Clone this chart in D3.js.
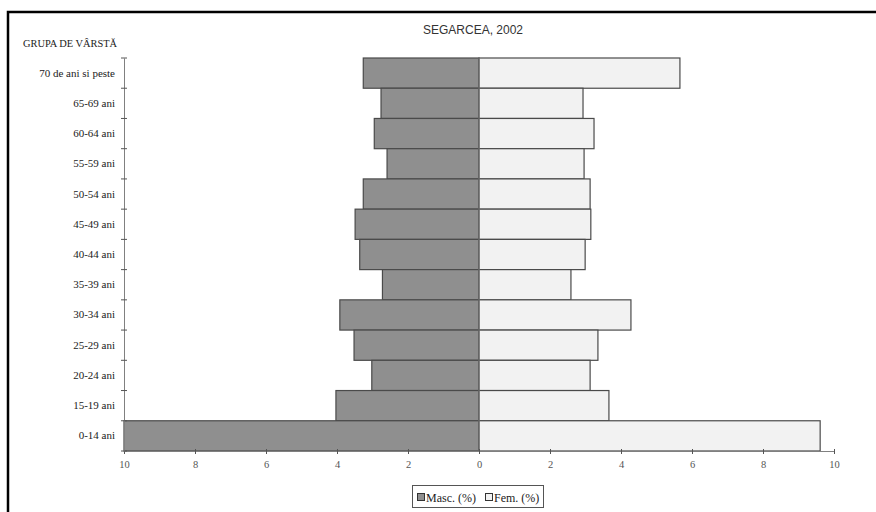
<!DOCTYPE html>
<html><head><meta charset="utf-8">
<script src="https://cdn.jsdelivr.net/npm/d3@7"></script>
<style>body{margin:0;background:#fff}svg{display:block}</style>
</head><body>
<script>
const categories = ["70 de ani si peste","65-69 ani","60-64 ani","55-59 ani","50-54 ani","45-49 ani","40-44 ani","35-39 ani","30-34 ani","25-29 ani","20-24 ani","15-19 ani","0-14 ani"];
const masc = [3.26,2.76,2.95,2.59,3.26,3.49,3.36,2.72,3.92,3.52,3.02,4.03,10.0];
const fem  = [5.66,2.93,3.24,2.96,3.13,3.15,2.99,2.59,4.28,3.35,3.13,3.66,9.61];
const xTicks = [-10,-8,-6,-4,-2,0,2,4,6,8,10];
const title = "SEGARCEA, 2002";
const yTitle = "GRUPA DE VÂRSTĂ";
const legendLabels = ["Masc. (%)","Fem. (%)"];

const W = 876, H = 512;
const serif = "Liberation Serif, Times New Roman, serif";
const svg = d3.select("body").append("svg").attr("width", W).attr("height", H);

svg.append("rect").attr("x",8).attr("y",12).attr("width",W+20).attr("height",H+20)
  .attr("fill","none").attr("stroke","#000").attr("stroke-width",2.5);

const x = d3.scaleLinear().domain([-10,10]).range([124,834]);
const y = d3.scaleBand().domain(categories).range([58,451]).padding(0);

svg.append("text").attr("x",473).attr("y",34).attr("text-anchor","middle")
  .attr("font-family","Liberation Sans, Arial, sans-serif").attr("font-size",12)
  .attr("fill","#333").text(title);

svg.append("text").attr("x",23).attr("y",47)
  .attr("font-family",serif).attr("font-size",10.4)
  .attr("fill","#222").text(yTitle);

// bars
const g = svg.append("g");
g.selectAll("rect.m").data(categories).join("rect").attr("class","m")
  .attr("x",(d,i)=>x(-masc[i])).attr("y",d=>y(d))
  .attr("width",(d,i)=>x(0)-x(-masc[i])).attr("height",y.bandwidth())
  .attr("fill","#8f8f8f").attr("stroke","#4a4a4a").attr("stroke-width",1.2);
g.selectAll("rect.f").data(categories).join("rect").attr("class","f")
  .attr("x",x(0)).attr("y",d=>y(d))
  .attr("width",(d,i)=>x(fem[i])-x(0)).attr("height",y.bandwidth())
  .attr("fill","#f2f2f2").attr("stroke","#4a4a4a").attr("stroke-width",1.2);
svg.append("line").attr("x1",x(0)).attr("x2",x(0)).attr("y1",58).attr("y2",451)
  .attr("stroke","#777").attr("stroke-width",1);

// x axis
const xa = svg.append("g").attr("transform","translate(0,451)")
  .call(d3.axisBottom(x).tickValues(xTicks).tickFormat(d=>Math.abs(d)).tickSizeInner(4).tickSizeOuter(0).tickPadding(6));
xa.select(".domain").attr("stroke","#808080");
xa.selectAll(".tick line").attr("stroke","#555").attr("y1",-2).attr("y2",3);
xa.selectAll(".tick text").attr("font-family",serif)
  .attr("font-size",10.5).attr("fill","#555");

// y axis
const ya = svg.append("g").attr("transform","translate(124,0)")
  .call(d3.axisLeft(y).tickSize(0).tickPadding(9));
ya.select(".domain").attr("stroke","#808080");
ya.selectAll(".tick text").attr("font-family",serif)
  .attr("font-size",11).attr("fill","#222");
const edges = categories.map(c=>y(c)).concat([451]);
svg.append("g").selectAll("line").data(edges).join("line")
  .attr("x1",121).attr("x2",127).attr("y1",d=>d).attr("y2",d=>d)
  .attr("stroke","#555");

// legend
const lg = svg.append("g");
lg.append("rect").attr("x",412.5).attr("y",485.5).attr("width",131).attr("height",22)
  .attr("fill","#fff").attr("stroke","#555");
const items = [{fill:"#8f8f8f",lbl:legendLabels[0],x:417},{fill:"#f2f2f2",lbl:legendLabels[1],x:485}];
items.forEach(it=>{
  lg.append("rect").attr("x",it.x+0.5).attr("y",493.5).attr("width",7).attr("height",7)
    .attr("fill",it.fill).attr("stroke","#333");
  lg.append("text").attr("x",it.x+9).attr("y",501.5)
    .attr("font-family",serif).attr("font-size",12)
    .attr("fill","#222").text(it.lbl);
});
</script>
</body></html>
